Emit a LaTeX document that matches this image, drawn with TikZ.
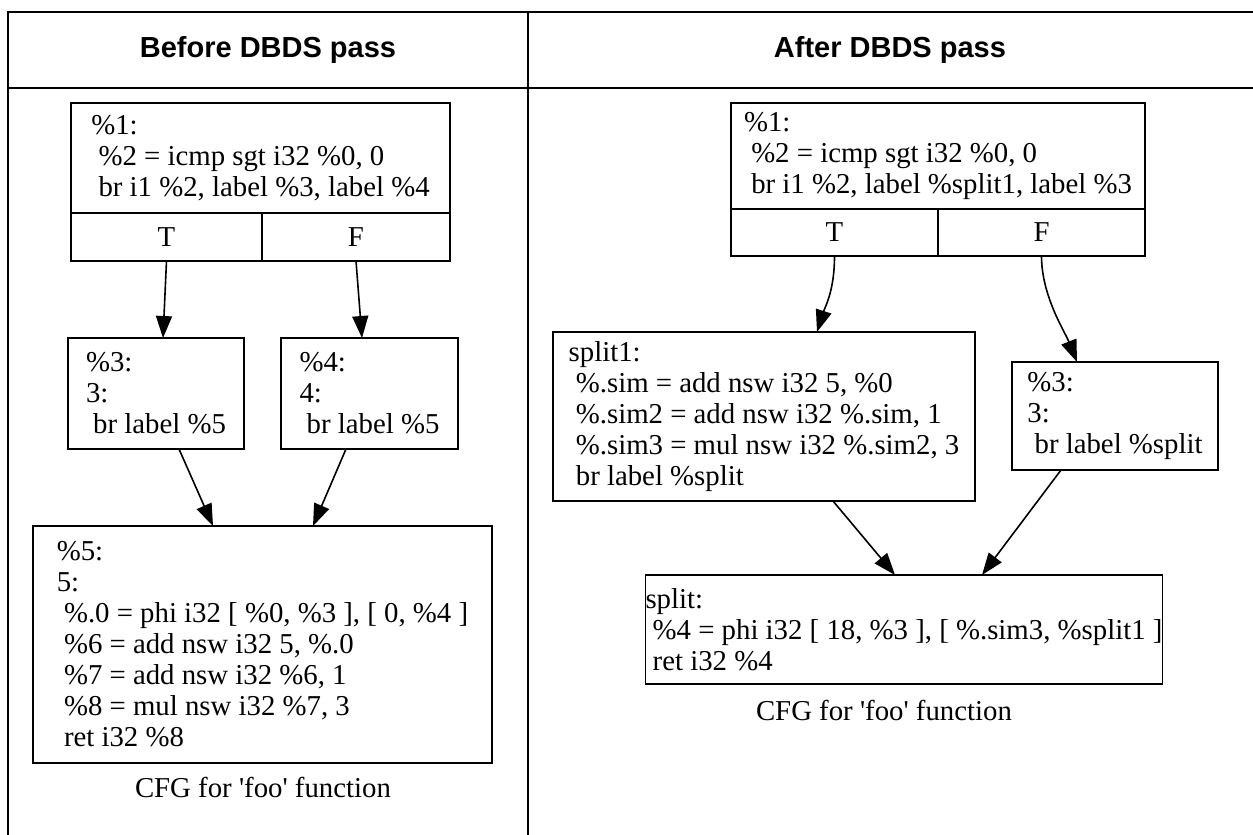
\documentclass[tikz,border=0pt]{standalone}
\usepackage{fontspec}
\usetikzlibrary{arrows.meta}
\newfontfamily\cfgfont{Liberation Serif}
\newfontfamily\headfont{Liberation Sans}
\newcommand{\cfgind}{\hspace*{0.25em}}
\begin{document}
\begin{tikzpicture}[x=0.5pt,y=-0.5pt,inner sep=0pt,outer sep=0pt,line width=0.8pt,
cfgblock/.style={draw,rectangle,align=left,font=\cfgfont\fontsize{14.4pt}{15.5pt}\selectfont},
cfgcell/.style={draw,rectangle,font=\cfgfont\fontsize{14.4pt}{15.5pt}\selectfont},
cfgcaption/.style={font=\cfgfont\fontsize{14.4pt}{15.5pt}\selectfont},
cfgedge/.style={-{Triangle[length=11pt,width=8pt]}},
headtext/.style={font=\headfont\bfseries\fontsize{14.5pt}{17pt}\selectfont},
tableline/.style={line width=1.4pt}]
\useasboundingbox (0,0) rectangle (1253,835);
\draw[tableline] (8,835) -- (8,12) -- (1253,12);
\draw[tableline] (8,88) -- (1253,88);
\draw[tableline] (528,12) -- (528,835);
\draw (268,50) node[headtext] (hbefore) {Before DBDS pass};
\draw (890,50) node[headtext] (hafter) {After DBDS pass};
\draw (260.5,158) node[cfgblock,minimum width=189.5pt,minimum height=55pt] (b1) {\%1:\\ \cfgind\%2 = icmp sgt i32 \%0, 0\\ \cfgind br i1 \%2, label \%3, label \%4};
\draw (166.5,237) node[cfgcell,minimum width=95.5pt,minimum height=24pt] (b1t) {T};
\draw (356,237) node[cfgcell,minimum width=94pt,minimum height=24pt] (b1f) {F};
\draw (156,393.5) node[cfgblock,minimum width=88pt,minimum height=55.5pt] (b3) {\%3:\\3:\\ \cfgind br label \%5};
\draw (369.5,393.5) node[cfgblock,minimum width=88.5pt,minimum height=55.5pt] (b4) {\%4:\\4:\\ \cfgind br label \%5};
\draw (262.5,644.5) node[cfgblock,minimum width=229.5pt,minimum height=118.5pt] (b5) {\%5:\\5:\\ \cfgind\%.0 = phi i32 [ \%0, \%3 ], [ 0, \%4 ]\\ \cfgind\%6 = add nsw i32 5, \%.0\\ \cfgind\%7 = add nsw i32 \%6, 1\\ \cfgind\%8 = mul nsw i32 \%7, 3\\ \cfgind ret i32 \%8};
\draw (263,787) node[cfgcaption] (bcap) {CFG for \textquotesingle foo\textquotesingle\ function};
\draw[cfgedge] (b1t.south) -- ([xshift=3.5pt]b3.north);
\draw[cfgedge] (b1f.south) -- ([xshift=-3.75pt]b4.north);
\draw[cfgedge] ([xshift=11.5pt]b3.south) -- ([xshift=-24.75pt]b5.north);
\draw[cfgedge] ([xshift=-11.75pt]b4.south) -- ([xshift=25.25pt]b5.north);
\draw (938,156) node[cfgblock,minimum width=207pt,minimum height=53pt] (a1) {\%1:\\ \cfgind\%2 = icmp sgt i32 \%0, 0\\ \cfgind br i1 \%2, label \%split1, label \%3};
\draw (834.5,232.5) node[cfgcell,minimum width=103.5pt,minimum height=23.5pt] (a1t) {T};
\draw (1041.5,232.5) node[cfgcell,minimum width=103.5pt,minimum height=23.5pt] (a1f) {F};
\draw (764,416.5) node[cfgblock,minimum width=211pt,minimum height=84.5pt] (asplitone) {split1:\\ \cfgind\%.sim = add nsw i32 5, \%0\\ \cfgind\%.sim2 = add nsw i32 \%.sim, 1\\ \cfgind\%.sim3 = mul nsw i32 \%.sim2, 3\\ \cfgind br label \%split};
\draw (1115,416) node[cfgblock,minimum width=103pt,minimum height=54pt] (a3) {\%3:\\3:\\ \cfgind br label \%split};
\draw (904,629.5) node[cfgblock,minimum width=238pt,minimum height=54.5pt] (asplit) {split:\\ \cfgind\%4 = phi i32 [ 18, \%3 ], [ \%.sim3, \%split1 ]\\ \cfgind ret i32 \%4};
\draw (884,710) node[cfgcaption] (acap) {CFG for \textquotesingle foo\textquotesingle\ function};
\draw[cfgedge] (a1t.south) .. controls +(0,35) and +(8,-25) .. ([xshift=26.5pt]asplitone.north);
\draw[cfgedge] (a1f.south) .. controls +(0,40) and +(-12,-30) .. ([xshift=-19pt]a3.north);
\draw[cfgedge] ([xshift=34.5pt]asplitone.south) -- ([xshift=-4.5pt]asplit.north);
\draw[cfgedge] ([xshift=-27pt]a3.south) -- ([xshift=39pt]asplit.north);
\end{tikzpicture}
\end{document}
